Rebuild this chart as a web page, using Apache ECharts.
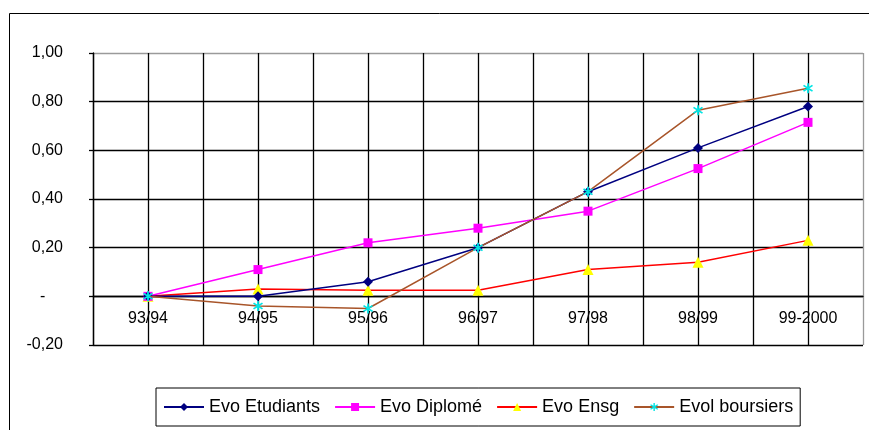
<!DOCTYPE html>
<html>
<head>
<meta charset="utf-8">
<script src="https://cdn.jsdelivr.net/npm/echarts@6/dist/echarts.min.js"></script>
<style>
  html, body { margin: 0; padding: 0; background: #fff; }
  #chart { width: 869px; height: 430px; }
</style>
</head>
<body>
<div id="chart"></div>
<script>
// School years on the category axis
const years = ['93/94', '94/95', '95/96', '96/97', '97/98', '98/99', '99-2000'];

// Yearly evolution indices
const evoEtudiants = [0.00, 0.00, 0.06, 0.20, 0.43, 0.61, 0.78];
const evoDiplome   = [0.00, 0.11, 0.22, 0.28, 0.35, 0.525, 0.715];
const evoEnsg      = [0.00, 0.03, 0.025, 0.025, 0.11, 0.14, 0.23];
const evolBoursiers = [0.00, -0.04, -0.05, 0.20, 0.43, 0.765, 0.855];

// Value axis ticks
const yMin = -0.2, yMax = 1.0, yStep = 0.2;

const seriesNames = ['Evo Etudiants', 'Evo Diplomé', 'Evo Ensg', 'Evol boursiers'];

// Plot area
const W = 869, H = 430;
const GRID = { left: 93, right: 6, top: 53, bottom: 85 };
const plotH = H - GRID.top - GRID.bottom;
// the category axis crosses the value axis at zero
const zeroOffset = -plotH * (0 - yMin) / (yMax - yMin);

// Asterisk marker: three thin bars crossing at the centre
function asteriskPath() {
  const parts = [];
  const L = 5, Wd = 0.8;
  [90, 35, 145].forEach(function (deg) {
    const a = deg * Math.PI / 180;
    const dx = Math.cos(a), dy = Math.sin(a);
    const nx = -dy, ny = dx;
    const pts = [
      [ L * dx + Wd * nx,  L * dy + Wd * ny],
      [-L * dx + Wd * nx, -L * dy + Wd * ny],
      [-L * dx - Wd * nx, -L * dy - Wd * ny],
      [ L * dx - Wd * nx,  L * dy - Wd * ny]
    ].map(function (p) { return (p[0] + 6).toFixed(2) + ',' + (p[1] + 6).toFixed(2); });
    parts.push('M' + pts[0] + ' L' + pts[1] + ' L' + pts[2] + ' L' + pts[3] + ' Z');
  });
  return 'path://' + parts.join(' ');
}

const FONT = '"Liberation Sans", Arial, sans-serif';

function yLabel(v) {
  const r = Math.round(v * 100) / 100;
  if (r === 0) return '-\u2007\u2007';
  return r.toFixed(2).replace('.', ',');
}

const chart = echarts.init(document.getElementById('chart'), null, { renderer: 'canvas' });

const gridColorsY = ['#000', '#000', '#000', '#000', '#000', '#000', '#9a9a9a'];
const gridColorsX = [];
for (let i = 0; i < years.length * 2; i++) gridColorsX.push('#000');
gridColorsX.push('#9a9a9a');

chart.setOption({
  animation: false,
  backgroundColor: '#fff',
  graphic: [{
    type: 'rect',
    shape: { x: 9.5, y: 13.5, width: 900, height: 500 },
    style: { fill: 'none', stroke: '#000', lineWidth: 1 },
    z: -1
  }],
  grid: { left: GRID.left, right: GRID.right, top: GRID.top, bottom: GRID.bottom, containLabel: false },
  legend: {
    data: seriesNames,
    left: 156,
    top: 388,
    padding: [10, 7, 10, 7],
    itemGap: 14,
    itemWidth: 40,
    itemHeight: 10,
    borderColor: '#000',
    borderWidth: 1,
    textStyle: { fontFamily: FONT, fontSize: 18, color: '#000' }
  },
  xAxis: [{
    type: 'category',
    data: years,
    boundaryGap: true,
    position: 'bottom',
    offset: zeroOffset,
    axisLine: { show: true, onZero: false, lineStyle: { color: '#000', width: 1.3 } },
    axisTick: { show: false },
    axisLabel: { fontFamily: FONT, fontSize: 16, color: '#000', margin: 14, interval: 0 },
    splitLine: { show: false }
  }, {
    // half-category grid lines
    type: 'value',
    min: 0,
    max: years.length * 2,
    interval: 1,
    position: 'bottom',
    axisLine: { show: false, onZero: false },
    axisTick: { show: false },
    axisLabel: { show: false },
    splitLine: { show: true, lineStyle: { color: gridColorsX, width: 1.3 } }
  }],
  yAxis: {
    type: 'value',
    min: yMin,
    max: yMax,
    interval: yStep,
    axisLine: { show: true, onZero: false, lineStyle: { color: '#000', width: 1.3 } },
    axisTick: { show: true, length: 4, lineStyle: { color: '#000', width: 1.3 } },
    axisLabel: { fontFamily: FONT, fontSize: 16, color: '#000', margin: 30, formatter: yLabel },
    splitLine: { show: true, lineStyle: { color: gridColorsY, width: 1.3 } }
  },
  series: [{
    name: seriesNames[0],
    type: 'line',
    data: evoEtudiants,
    symbol: 'diamond',
    symbolSize: 10,
    lineStyle: { color: '#000080', width: 1.5 },
    itemStyle: { color: '#000080' },
    z: 4
  }, {
    name: seriesNames[1],
    type: 'line',
    data: evoDiplome,
    symbol: 'rect',
    symbolSize: 9,
    lineStyle: { color: '#ff00ff', width: 1.5 },
    itemStyle: { color: '#ff00ff' },
    z: 3
  }, {
    name: seriesNames[2],
    type: 'line',
    data: evoEnsg,
    symbol: 'triangle',
    symbolSize: 11,
    lineStyle: { color: '#ff0000', width: 1.5 },
    itemStyle: { color: '#ffff00' },
    z: 2
  }, {
    name: seriesNames[3],
    type: 'line',
    data: evolBoursiers,
    symbol: asteriskPath(),
    symbolSize: 10,
    lineStyle: { color: '#a8552a', width: 1.5 },
    itemStyle: { color: '#00e5e5' },
    z: 5
  }]
});
</script>
</body>
</html>
